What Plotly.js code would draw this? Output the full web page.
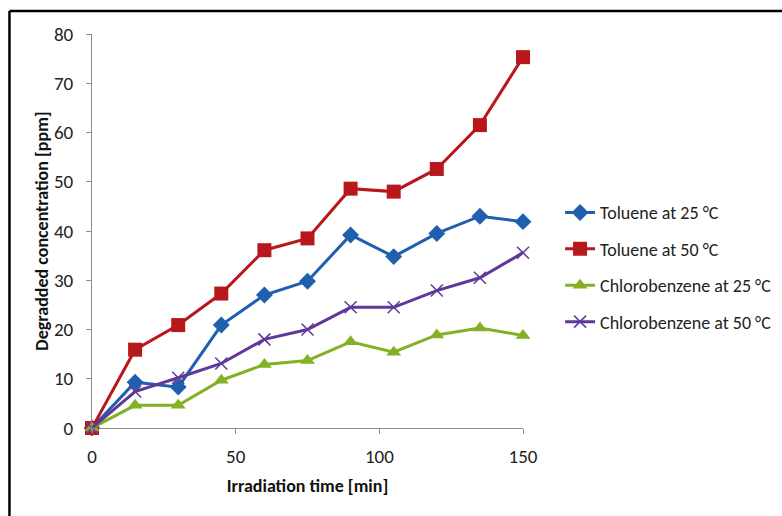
<!DOCTYPE html>
<html>
<head>
<meta charset="utf-8">
<script src="https://cdn.plot.ly/plotly-3.0.1.min.js"></script>
<style>
html,body{margin:0;padding:0;background:#fff;}
#chart{width:782px;height:516px;}
</style>
</head>
<body>
<div id="chart"></div>
<script>
const time = [0, 15, 30, 45, 60, 75, 90, 105, 120, 135, 150];
const toluene25 = [0, 9.3, 8.3, 20.9, 27.0, 29.8, 39.2, 34.8, 39.5, 43.0, 41.9];
const toluene50 = [0, 15.9, 20.9, 27.3, 36.1, 38.5, 48.6, 48.0, 52.6, 61.5, 75.3];
const chloro25 = [0, 4.6, 4.6, 9.7, 12.9, 13.7, 17.5, 15.4, 18.9, 20.3, 18.8];
const chloro50 = [0, 7.4, 10.2, 13.1, 18.0, 20.0, 24.5, 24.5, 27.9, 30.5, 35.6];
const seriesNames = ["Toluene at 25 °C", "Toluene at 50 °C", "Chlorobenzene at 25 °C", "Chlorobenzene at 50 °C"];
const xTitle = "Irradiation time [min]";
const yTitle = "Degradded concentration [ppm]";

const FONT = "Carlito, Lato, 'Open Sans', sans-serif";
const colors = ["#1f5fae", "#b8171b", "#84b024", "#60389a"];
const symbols = ["diamond", "square", "triangle-up", "x-thin-open"];
const sizes = [13, 14, 13, 12];
const values = [toluene25, toluene50, chloro25, chloro50];

const traces = values.map((v, i) => ({
  x: time,
  y: v,
  name: seriesNames[i],
  legendgroup: "g" + i,
  type: "scatter",
  mode: "lines+markers",
  cliponaxis: false,
  line: {color: colors[i], width: 3},
  marker: {symbol: symbols[i], size: sizes[i], color: colors[i],
           line: {color: colors[i], width: i === 3 ? 1.5 : 0}}
}));

const layout = {
  width: 782, height: 516,
  margin: {l: 92, r: 259, t: 34, b: 88, autoexpand: false},
  paper_bgcolor: "#fff", plot_bgcolor: "#fff",
  font: {family: FONT, size: 18, color: "#222"},
  showlegend: true,
  legend: {
    x: 1.086, y: 0.408, xanchor: "left", yanchor: "middle",
    traceorder: "grouped", tracegroupgap: 10,
    font: {family: FONT, size: 18, color: "#222"},
    itemwidth: 30, bgcolor: "rgba(0,0,0,0)"
  },
  xaxis: {
    range: [0, 150], tickvals: [0, 50, 100, 150], ticktext: ["0", "50", "100", "150"],
    showline: true, linecolor: "#8c8c8c", linewidth: 1,
    ticks: "outside", ticklen: 5, tickcolor: "#8c8c8c",
    showgrid: false, zeroline: false, automargin: false,
    tickfont: {family: FONT, size: 19, color: "#222"},
    ticklabelstandoff: 6,
    title: {text: xTitle, font: {family: FONT, size: 18, color: "#111", weight: "bold"}, standoff: 12}
  },
  yaxis: {
    range: [0, 80], dtick: 10,
    showline: true, linecolor: "#8c8c8c", linewidth: 1,
    ticks: "outside", ticklen: 5, tickcolor: "#8c8c8c",
    showgrid: false, zeroline: false, automargin: false,
    tickfont: {family: FONT, size: 19, color: "#222"},
    ticklabelstandoff: 9,
    title: {text: yTitle, font: {family: FONT, size: 18, color: "#111", weight: "bold"}, standoff: 0}
  },
  shapes: [
    {type: "line", xref: "paper", yref: "paper", x0: -0.1915, x1: 1.62, y0: 1.0584, y1: 1.0584,
     line: {color: "#000", width: 2.5}, layer: "above"},
    {type: "line", xref: "paper", yref: "paper", x0: -0.1915, x1: -0.1915, y0: 1.0584, y1: -0.25,
     line: {color: "#000", width: 2.5}, layer: "above"}
  ]
};

Plotly.newPlot("chart", traces, layout, {displayModeBar: false, staticPlot: true});
</script>
</body>
</html>
